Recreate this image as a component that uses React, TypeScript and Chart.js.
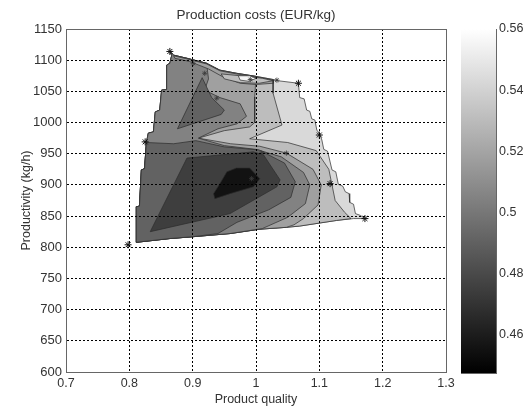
import { useEffect, useRef } from "react";
import { Chart, registerables } from "chart.js";

Chart.register(...registerables);

type Pt = [number, number];

// ---- axes / ticks ----
const xTickValues = [0.7, 0.8, 0.9, 1.0, 1.1, 1.2, 1.3];
const yTickValues = [600, 650, 700, 750, 800, 850, 900, 950, 1000, 1050, 1100, 1150];
const colorbarTickValues = [0.46, 0.48, 0.5, 0.52, 0.54, 0.56];
const colorbarMin = 0.4475;
const colorbarMax = 0.56;

const chartTitle = "Production costs (EUR/kg)";
const xTitle = "Product quality";
const yTitle = "Productivity (kg/h)";

// ---- filled contour regions (data coords: quality, productivity) ----
const domainOutline: Pt[] = [
  [0.864, 1114], [0.870, 1108], [0.891, 1103], [0.922, 1095], [0.943, 1084], [0.969, 1079], [1.000, 1074], [1.027, 1069], [1.035, 1067], [1.067, 1063],
  [1.069, 1040], [1.076, 1038], [1.080, 1020], [1.085, 1018], [1.088, 1006], [1.093, 1004], [1.096, 988], [1.101, 981], [1.104, 972], [1.107, 957], [1.113, 954], [1.120, 924], [1.126, 921], [1.130, 901], [1.137, 898], [1.141, 889], [1.147, 886], [1.148, 872], [1.154, 869], [1.157, 854], [1.165, 851], [1.172, 846],
  [1.154, 846], [1.127, 843], [1.069, 834], [1.048, 832], [1.006, 829], [0.959, 822], [0.901, 817], [0.864, 814], [0.811, 808],
  [0.811, 865], [0.816, 866], [0.819, 924], [0.824, 926], [0.827, 968], [0.830, 983], [0.838, 985], [0.841, 1017], [0.848, 1020], [0.851, 1052], [0.858, 1053], [0.859, 1092], [0.864, 1095], [0.867, 1108], [0.864, 1114],
];

const levelOneRegion: Pt[] = [
  [1.027, 1069], [1.027, 1047], [1.041, 996], [0.990, 974], [1.050, 968], [1.095, 955], [1.115, 925], [1.120, 900], [1.125, 875], [1.140, 856], [1.150, 846],
  [1.127, 843], [1.069, 834], [1.048, 832], [1.006, 829], [0.959, 822], [0.901, 817], [0.864, 814], [0.811, 808],
  [0.811, 865], [0.816, 866], [0.819, 924], [0.824, 926], [0.827, 968], [0.830, 983], [0.838, 985], [0.841, 1017], [0.848, 1020], [0.851, 1052], [0.858, 1053], [0.859, 1092], [0.864, 1095], [0.867, 1108], [0.864, 1114],
  [0.870, 1108], [0.891, 1103], [0.922, 1095], [0.943, 1084], [0.969, 1079], [1.000, 1074], [1.027, 1069],
];

const levelTwoRegion: Pt[] = [
  [1.000, 1074], [0.998, 1041], [0.998, 1000], [0.990, 993], [0.950, 987], [0.909, 975], [0.960, 966], [1.006, 962], [1.048, 951], [1.090, 925], [1.103, 900], [1.098, 868], [1.075, 846], [1.060, 836],
  [1.048, 832], [1.006, 829], [0.959, 822], [0.901, 817], [0.864, 814], [0.811, 808],
  [0.811, 865], [0.816, 866], [0.819, 924], [0.824, 926], [0.827, 968], [0.830, 983], [0.838, 985], [0.841, 1017], [0.848, 1020], [0.851, 1052], [0.858, 1053], [0.859, 1092], [0.864, 1095], [0.867, 1108], [0.864, 1114],
  [0.870, 1108], [0.891, 1103], [0.922, 1095], [0.943, 1084], [0.969, 1079], [1.000, 1074],
];

const levelThreeRegion: Pt[] = [
  [0.922, 1095], [0.925, 1070], [0.919, 1052], [0.943, 1040], [0.975, 1030], [0.985, 1010], [0.970, 998], [0.940, 990], [0.909, 975],
  [0.950, 963], [1.000, 957], [1.040, 945], [1.075, 920], [1.085, 900], [1.078, 870], [1.050, 848], [1.010, 830],
  [0.959, 822], [0.901, 817], [0.864, 814], [0.811, 808],
  [0.811, 865], [0.816, 866], [0.819, 924], [0.824, 926], [0.827, 968], [0.830, 983], [0.838, 985], [0.841, 1017], [0.848, 1020], [0.851, 1052], [0.858, 1053], [0.859, 1092], [0.864, 1095], [0.867, 1108], [0.864, 1114],
  [0.870, 1108], [0.891, 1103], [0.922, 1095],
];

const levelFourRegion: Pt[] = [
  [0.827, 968], [0.870, 966], [0.905, 971], [0.950, 961], [1.005, 956], [1.045, 935], [1.062, 905], [1.055, 880], [1.020, 860], [0.970, 840], [0.940, 822],
  [0.901, 817], [0.864, 814], [0.811, 808], [0.811, 865], [0.816, 866], [0.819, 924], [0.824, 926], [0.827, 968],
];

const upperWedge: Pt[] = [
  [0.915, 1072], [0.930, 1040], [0.950, 1020], [0.945, 1013], [0.876, 990], [0.915, 1072],
];

const darkRegion: Pt[] = [
  [0.891, 943], [0.943, 948], [0.996, 953], [1.012, 948], [1.038, 908], [1.033, 897], [0.959, 854], [0.833, 825], [0.891, 943],
];

const coreRegion: Pt[] = [
  [0.954, 921], [0.969, 927], [0.990, 927], [1.006, 910], [0.996, 897], [0.959, 886], [0.935, 878], [0.933, 886], [0.943, 902], [0.954, 921],
];

const topBand: Pt[] = [
  [0.870, 1107], [0.891, 1102], [0.922, 1094], [0.943, 1083], [0.969, 1078], [1.000, 1073], [1.027, 1068],
  [1.027, 1063], [1.000, 1061], [0.975, 1063], [0.950, 1072], [0.925, 1086], [0.895, 1098], [0.872, 1103], [0.870, 1107],
];

const topRing: Pt[] = [
  [0.945, 1078], [0.975, 1075], [1.010, 1071], [1.027, 1067], [1.005, 1063], [0.975, 1064], [0.950, 1070], [0.945, 1078],
];

const topSpot: Pt[] = [
  [0.972, 1075], [0.990, 1075], [1.000, 1071], [0.990, 1066], [0.975, 1068], [0.972, 1075],
];

// ---- data markers (*) ----
const outerMarkers: Pt[] = [
  [0.864, 1114], [0.825, 969], [0.798, 804], [1.067, 1063], [1.100, 980], [1.117, 902], [1.172, 846],
];
const innerMarkers: Pt[] = [
  [0.901, 1095], [0.919, 1079], [0.938, 1039], [0.991, 1069], [1.033, 1068], [1.009, 951], [1.048, 951], [0.993, 910],
];

const levelColors = ["#d9d9d9", "#bdbdbd", "#a0a0a0", "#828282", "#626262", "#3e3e3e", "#121212", "#f4f4f4"];

const FONT = "'Liberation Sans', Arial, sans-serif";
const TEXT = "#333333";
const FRAME = "#666666";

const fmt = (v: number) => String(Number(Number(v).toFixed(3)));

export default function App() {
  const mainRef = useRef<HTMLCanvasElement>(null);
  const barRef = useRef<HTMLCanvasElement>(null);

  useEffect(() => {
    Chart.defaults.font.family = FONT;
    // painted bottom-to-top in this order
    const regions: [Pt[], string][] = [
      [domainOutline, levelColors[0]],
      [levelOneRegion, levelColors[1]],
      [levelTwoRegion, levelColors[2]],
      [levelThreeRegion, levelColors[3]],
      [levelFourRegion, levelColors[4]],
      [upperWedge, levelColors[4]],
      [darkRegion, levelColors[5]],
      [coreRegion, levelColors[6]],
      [topBand, levelColors[2]],
      [topRing, levelColors[1]],
      [topSpot, levelColors[7]],
    ];
    const datasets: any[] = regions.map(([pts, color], i) => ({
      data: pts.map(([x, y]) => ({ x, y })),
      order: regions.length - i + 2,
      showLine: true,
      fill: "shape",
      backgroundColor: color,
      borderColor: "#2b2b2b",
      borderWidth: 0.7,
      pointRadius: 0,
      pointHoverRadius: 0,
      tension: 0,
    }));
    datasets.push({
      data: innerMarkers.map(([x, y]) => ({ x, y })),
      order: 1,
      showLine: false,
      pointStyle: "star",
      pointRadius: 2.6,
      borderColor: "#3a3a3a",
      backgroundColor: "#3a3a3a",
      borderWidth: 0.8,
    });
    datasets.push({
      data: outerMarkers.map(([x, y]) => ({ x, y })),
      order: 0,
      showLine: false,
      pointStyle: "star",
      pointRadius: 3.5,
      borderColor: "#111111",
      backgroundColor: "#111111",
      borderWidth: 1,
    });

    const tickFont = { family: FONT, size: 12.5 };
    const titleFont = { family: FONT, size: 12.5 };
    const main = new Chart(mainRef.current!, {
      type: "scatter",
      data: { datasets },
      options: {
        animation: false,
        responsive: false,
        events: [],
        layout: { padding: { left: 0, right: 9, top: 0, bottom: 0 } },
        plugins: { legend: { display: false }, tooltip: { enabled: false }, title: { display: false } },
        scales: {
          x: {
            type: "linear",
            position: "bottom",
            min: 0.7,
            max: 1.3,
            afterBuildTicks: (s: any) => { s.ticks = xTickValues.map((v) => ({ value: v })); },
            afterFit: (s: any) => { s.height = 35; s.paddingLeft = 0; s.paddingRight = 0; },
            ticks: { callback: (v: any) => fmt(v), color: TEXT, font: tickFont, padding: 4, maxRotation: 0, autoSkip: false },
            grid: { color: "#000000", lineWidth: 1, drawTicks: false, z: 1 },
            border: { display: true, color: FRAME, width: 1, dash: [2, 2], z: 2 },
            title: { display: true, text: xTitle, color: TEXT, font: titleFont, padding: { top: 0, bottom: 0 } },
          },
          y: {
            type: "linear",
            position: "left",
            min: 600,
            max: 1150,
            afterBuildTicks: (s: any) => { s.ticks = yTickValues.map((v) => ({ value: v })); },
            afterFit: (s: any) => { s.width = 66; s.paddingTop = 0; s.paddingBottom = 0; },
            ticks: { callback: (v: any) => fmt(v), color: TEXT, font: { family: FONT, size: 13 }, padding: 4, autoSkip: false },
            grid: { color: "#000000", lineWidth: 1, drawTicks: false, z: 1 },
            border: { display: true, color: FRAME, width: 1, dash: [2, 2], z: 2 },
            title: { display: true, text: yTitle, color: TEXT, font: titleFont, padding: { top: 19, bottom: 0 } },
          },
          xTop: {
            type: "linear",
            position: "top",
            min: 0,
            max: 1,
            afterFit: (s: any) => { s.height = 29; s.paddingLeft = 0; s.paddingRight = 0; },
            ticks: { display: false },
            grid: { display: false },
            border: { display: true, color: FRAME, width: 1, z: 2 },
            title: { display: true, text: chartTitle, color: TEXT, font: { family: FONT, size: 13.5 }, padding: { top: 7, bottom: 0 } },
          },
          yRight: {
            type: "linear",
            position: "right",
            min: 0,
            max: 1,
            afterFit: (s: any) => { s.width = 0; s.paddingTop = 0; s.paddingBottom = 0; },
            ticks: { display: false },
            grid: { display: false },
            border: { display: true, color: FRAME, width: 1, z: 2 },
          },
        },
      } as any,
    });

    const bar = new Chart(barRef.current!, {
      type: "scatter",
      data: {
        datasets: [
          {
            data: [{ x: 0, y: colorbarMax }, { x: 1, y: colorbarMax }],
            showLine: true,
            fill: "start",
            borderWidth: 0,
            pointRadius: 0,
            backgroundColor: (ctx: any) => {
              const ca = ctx.chart.chartArea;
              if (!ca) return "#888888";
              const g = ctx.chart.ctx.createLinearGradient(0, ca.bottom, 0, ca.top);
              g.addColorStop(0, "#000000");
              g.addColorStop(1, "#ffffff");
              return g;
            },
          } as any,
        ],
      },
      options: {
        animation: false,
        responsive: false,
        events: [],
        layout: { padding: { left: 6, right: 0, top: 29, bottom: 34 } },
        plugins: { legend: { display: false }, tooltip: { enabled: false } },
        scales: {
          x: {
            type: "linear", position: "bottom", min: 0, max: 1,
            afterFit: (s: any) => { s.height = 0; s.paddingLeft = 0; s.paddingRight = 0; },
            ticks: { display: false }, grid: { display: false },
            border: { display: true, color: FRAME, width: 1 },
          },
          xTop: {
            type: "linear", position: "top", min: 0, max: 1,
            afterFit: (s: any) => { s.height = 0; s.paddingLeft = 0; s.paddingRight = 0; },
            ticks: { display: false }, grid: { display: false },
            border: { display: true, color: FRAME, width: 1 },
          },
          y: {
            type: "linear", position: "right", min: colorbarMin, max: colorbarMax,
            afterBuildTicks: (s: any) => { s.ticks = colorbarTickValues.map((v) => ({ value: v })); },
            afterFit: (s: any) => { s.width = 30; s.paddingTop = 0; s.paddingBottom = 0; },
            ticks: { callback: (v: any) => fmt(v), color: TEXT, font: tickFont, padding: 7, autoSkip: false },
            grid: { drawOnChartArea: false, drawTicks: true, tickLength: -4, color: FRAME, tickColor: FRAME },
            border: { display: true, color: FRAME, width: 1 },
          },
          yLeft: {
            type: "linear", position: "left", min: colorbarMin, max: colorbarMax,
            afterBuildTicks: (s: any) => { s.ticks = colorbarTickValues.map((v) => ({ value: v })); },
            afterFit: (s: any) => { s.width = 0; s.paddingTop = 0; s.paddingBottom = 0; },
            ticks: { display: false },
            grid: { drawOnChartArea: false, drawTicks: true, tickLength: -4, color: FRAME, tickColor: FRAME },
            border: { display: true, color: FRAME, width: 1 },
          },
        },
      } as any,
    });

    return () => {
      main.destroy();
      bar.destroy();
    };
  }, []);

  return (
    <div style={{ position: "fixed", left: 0, top: 0, width: 526, height: 407, background: "#ffffff" }}>
      <canvas ref={mainRef} width={455} height={407} style={{ position: "absolute", left: 0, top: 0 }} />
      <canvas ref={barRef} width={71} height={407} style={{ position: "absolute", left: 455, top: 0 }} />
    </div>
  );
}
